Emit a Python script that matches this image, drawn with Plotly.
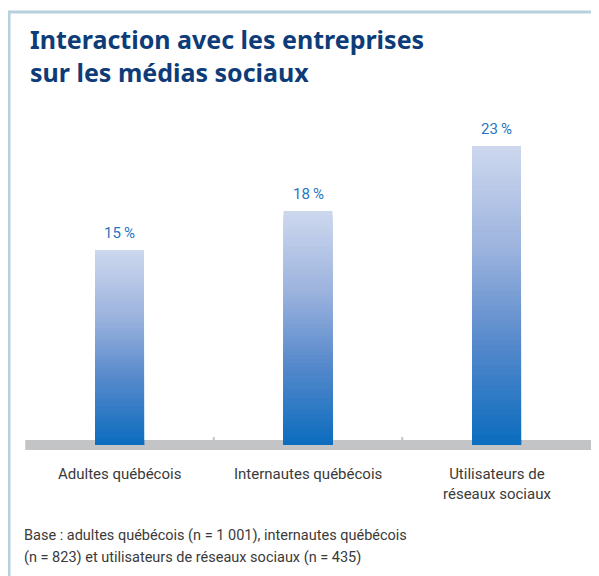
import plotly.graph_objects as go

# data
categories = ["Adultes québécois", "Internautes québécois", "Utilisateurs de<br>réseaux sociaux"]
values = [15, 18, 23]
value_labels = ["15\u2009%", "18\u2009%", "23\u2009%"]
title_text = "Interaction avec les entreprises<br>sur les médias sociaux"
footnote_lines = ["Base : adultes québécois (n = 1 001), internautes québécois",
                  "(n = 823) et utilisateurs de réseaux sociaux (n = 435)"]

W, H = 599, 576
OFF = 8  # page body margin, everything is drawn 8px left/up to compensate
# pixel mapping used to place the plot area (bar centres ~188.5px apart, 13px per %)
X0_PX, X_STEP = 119.5 - OFF, 188.5
Y0_PX, Y_STEP = 445 - OFF, 13.0

xs = list(range(len(categories)))
x_range = [-X0_PX / X_STEP, (W - X0_PX) / X_STEP]
y_range = [(Y0_PX - H) / Y_STEP, Y0_PX / Y_STEP]


def py(px):
    # reference pixel row -> paper y
    return 1 - (px - OFF) / H


def px_(x):
    # reference pixel column -> paper x
    return (x - OFF) / W


def vy(px):
    # reference pixel row -> data y
    return (Y0_PX - (px - OFF)) / Y_STEP


def mix(c1, c2, t):
    return "rgb({},{},{})".format(*[round(a + (b - a) * t) for a, b in zip(c1, c2)])


# vertical gradient (bottom -> top)
stops = [(0.0, (11, 108, 190)), (0.35, (88, 138, 204)), (0.65, (155, 178, 221)), (1.0, (205, 216, 238))]


def grad(t):
    for (t0, c0), (t1, c1) in zip(stops[:-1], stops[1:]):
        if t <= t1:
            return mix(c0, c1, (t - t0) / (t1 - t0))
    return mix(stops[-1][1], stops[-1][1], 0)


fig = go.Figure()

N = 60
for k in range(N):
    frac = (N - k) / N
    fig.add_trace(go.Bar(
        x=xs, y=[v * frac for v in values], width=0.26,
        marker=dict(color=grad(frac - 0.5 / N), line=dict(width=0)),
        hoverinfo="skip", showlegend=False,
    ))

shapes = [
    # grey base band
    dict(type="rect", xref="x", yref="y", x0=-0.5, x1=3, y0=vy(450), y1=vy(440),
         fillcolor="#c3c4c6", line=dict(width=0), layer="below"),
    # frame
    dict(type="line", xref="paper", yref="paper", x0=px_(8), x1=1, y0=py(12), y1=py(12),
         line=dict(color="#b7d0dd", width=3)),
    dict(type="line", xref="paper", yref="paper", x0=px_(9), x1=px_(9), y0=py(11), y1=0,
         line=dict(color="#b7d0dd", width=3)),
]
for b in [0.5, 1.5]:
    shapes.append(dict(type="line", xref="x", yref="y", x0=b, x1=b, y0=vy(440), y1=vy(437),
                       line=dict(color="#c3c4c6", width=2), layer="below"))

annotations = [dict(
    text="<b>" + title_text + "</b>", xref="paper", yref="paper", x=px_(28), y=py(55.5),
    xanchor="left", yanchor="middle", align="left", showarrow=False,
    font=dict(family="Noto Sans", size=25, color="#0d3c78"))]

for x, v, lab in zip(xs, values, value_labels):
    annotations.append(dict(
        text=lab, x=x, y=v, xref="x", yref="y", xanchor="center", yanchor="bottom",
        yshift=6, showarrow=False,
        font=dict(family="Roboto", size=15, color="#1f77c0")))

for x, c in zip(xs, categories):
    annotations.append(dict(
        text=c, x=x, y=py(463), xref="x", yref="paper", xanchor="center", yanchor="top",
        showarrow=False,
        font=dict(family="Roboto", size=15, color="#3a3a3a")))

for i, line in enumerate(footnote_lines):
    annotations.append(dict(
        text=line, x=px_(22), y=py(535 + 22 * i), xref="paper", yref="paper", xanchor="left",
        yanchor="middle", align="left", showarrow=False,
        font=dict(family="Roboto", size=14.5, color="#3a3a3a")))

fig.update_layout(
    width=W, height=H, autosize=False,
    margin=dict(l=0, r=0, t=0, b=0),
    paper_bgcolor="white", plot_bgcolor="white",
    barmode="overlay",
    xaxis=dict(range=x_range, visible=False, fixedrange=True),
    yaxis=dict(range=y_range, visible=False, fixedrange=True),
    shapes=shapes, annotations=annotations,
)

fig.write_html("out.html")
